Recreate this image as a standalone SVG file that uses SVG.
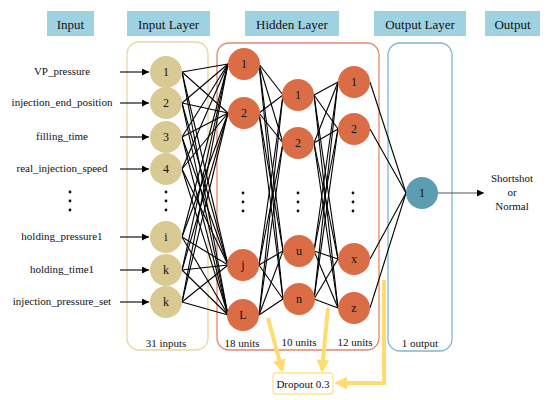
<svg xmlns="http://www.w3.org/2000/svg" width="550" height="400" viewBox="0 0 550 400" font-family="'Liberation Serif', 'DejaVu Serif', serif">
<defs>
<style>
text{font-family:'Liberation Serif','DejaVu Serif',serif;fill:#111;text-anchor:middle;dominant-baseline:central}
.hdr rect{fill:#9fd2e1}
.hdr text{font-size:13px}
.lbl{font-size:11px}
.in circle.n{fill:#d8ca92}
.hid circle.n{fill:#db6d46}
.out circle.n{fill:#5c9db2}
.nt{font-size:12px}
.conn line{stroke:#000;stroke-width:1.1}
circle.dot{fill:#111}
.yl{stroke:#ffdc70;stroke-width:4;fill:none}
</style>
<marker id="ah" viewBox="0 0 10 10" refX="10" refY="5" markerWidth="7" markerHeight="7" markerUnits="userSpaceOnUse" orient="auto"><path d="M0,0L10,5L0,10z" fill="#000"/></marker>
<marker id="ya" viewBox="0 0 10 10" refX="8" refY="5" markerWidth="3.2" markerHeight="3.2" orient="auto"><path d="M0,0L10,5L0,10z" fill="#ffdc70"/></marker>
</defs>
<rect width="550" height="400" fill="#fff"/>

<g id="headers" class="hdr">
<g id="h-input"><rect x="47" y="11" width="47" height="25"/><text x="70.5" y="24">Input</text></g>
<g id="h-inlayer"><rect x="127" y="11" width="83" height="25"/><text x="168.5" y="24">Input Layer</text></g>
<g id="h-hidden"><rect x="245" y="11" width="94" height="25"/><text x="292" y="24">Hidden Layer</text></g>
<g id="h-outlayer"><rect x="374" y="11" width="92" height="25"/><text x="420" y="24">Output Layer</text></g>
<g id="h-output"><rect x="485" y="11" width="55" height="25"/><text x="512.5" y="24">Output</text></g>
</g>

<g id="layer-boxes" fill="none" stroke-width="1.3">
<rect id="box-input" x="127" y="42" width="81" height="308" rx="12" stroke="#e6d9a2"/>
<rect id="box-hidden" x="217" y="43" width="162" height="307" rx="12" stroke="#e5876b"/>
<rect id="box-output" x="388" y="43" width="64" height="308" rx="12" stroke="#7fb7cc"/>
</g>

<g id="connectors" class="conn">
<line x1="120" y1="72" x2="149" y2="72" marker-end="url(#ah)"/>
<line x1="120" y1="103" x2="149" y2="103" marker-end="url(#ah)"/>
<line x1="120" y1="137" x2="149" y2="137" marker-end="url(#ah)"/>
<line x1="120" y1="169" x2="149" y2="169" marker-end="url(#ah)"/>
<line x1="120" y1="237" x2="149" y2="237" marker-end="url(#ah)"/>
<line x1="120" y1="270" x2="149" y2="270" marker-end="url(#ah)"/>
<line x1="120" y1="302" x2="149" y2="302" marker-end="url(#ah)"/>
<g>
<line x1="182" y1="72" x2="228" y2="64"/><line x1="182" y1="72" x2="228" y2="113"/><line x1="182" y1="72" x2="228" y2="265"/><line x1="182" y1="72" x2="228" y2="315"/>
<line x1="182" y1="103" x2="228" y2="64"/><line x1="182" y1="103" x2="228" y2="113"/><line x1="182" y1="103" x2="228" y2="265"/><line x1="182" y1="103" x2="228" y2="315"/>
<line x1="182" y1="137" x2="228" y2="64"/><line x1="182" y1="137" x2="228" y2="113"/><line x1="182" y1="137" x2="228" y2="265"/><line x1="182" y1="137" x2="228" y2="315"/>
<line x1="182" y1="169" x2="228" y2="64"/><line x1="182" y1="169" x2="228" y2="113"/><line x1="182" y1="169" x2="228" y2="265"/><line x1="182" y1="169" x2="228" y2="315"/>
<line x1="182" y1="237" x2="228" y2="64"/><line x1="182" y1="237" x2="228" y2="113"/><line x1="182" y1="237" x2="228" y2="265"/><line x1="182" y1="237" x2="228" y2="315"/>
<line x1="182" y1="270" x2="228" y2="64"/><line x1="182" y1="270" x2="228" y2="113"/><line x1="182" y1="270" x2="228" y2="265"/><line x1="182" y1="270" x2="228" y2="315"/>
<line x1="182" y1="302" x2="228" y2="64"/><line x1="182" y1="302" x2="228" y2="113"/><line x1="182" y1="302" x2="228" y2="265"/><line x1="182" y1="302" x2="228" y2="315"/>
</g>
<g>
<line x1="259" y1="64" x2="283" y2="95"/><line x1="259" y1="64" x2="283" y2="143"/><line x1="259" y1="64" x2="283" y2="251"/><line x1="259" y1="64" x2="283" y2="299"/>
<line x1="259" y1="113" x2="283" y2="95"/><line x1="259" y1="113" x2="283" y2="143"/><line x1="259" y1="113" x2="283" y2="251"/><line x1="259" y1="113" x2="283" y2="299"/>
<line x1="259" y1="265" x2="283" y2="95"/><line x1="259" y1="265" x2="283" y2="143"/><line x1="259" y1="265" x2="283" y2="251"/><line x1="259" y1="265" x2="283" y2="299"/>
<line x1="259" y1="315" x2="283" y2="95"/><line x1="259" y1="315" x2="283" y2="143"/><line x1="259" y1="315" x2="283" y2="251"/><line x1="259" y1="315" x2="283" y2="299"/>
</g>
<g>
<line x1="314" y1="95" x2="338" y2="82"/><line x1="314" y1="95" x2="338" y2="129"/><line x1="314" y1="95" x2="338" y2="259"/><line x1="314" y1="95" x2="338" y2="308"/>
<line x1="314" y1="143" x2="338" y2="82"/><line x1="314" y1="143" x2="338" y2="129"/><line x1="314" y1="143" x2="338" y2="259"/><line x1="314" y1="143" x2="338" y2="308"/>
<line x1="314" y1="251" x2="338" y2="82"/><line x1="314" y1="251" x2="338" y2="129"/><line x1="314" y1="251" x2="338" y2="259"/><line x1="314" y1="251" x2="338" y2="308"/>
<line x1="314" y1="299" x2="338" y2="82"/><line x1="314" y1="299" x2="338" y2="129"/><line x1="314" y1="299" x2="338" y2="259"/><line x1="314" y1="299" x2="338" y2="308"/>
</g>
<line x1="370" y1="82" x2="406" y2="193"/><line x1="370" y1="129" x2="406" y2="193"/><line x1="370" y1="259" x2="406" y2="193"/><line x1="370" y1="308" x2="406" y2="193"/>
<line x1="438" y1="193" x2="484" y2="193" style="stroke:#555" marker-end="url(#ah)"/>
</g>

<g id="dropout-arrows">
<path class="yl" d="M268,318L282,370" marker-end="url(#ya)"/>
<path class="yl" d="M328,308L322,370" marker-end="url(#ya)"/>
<path class="yl" d="M384,280V383H337" marker-end="url(#ya)"/>
</g>

<g id="input-labels" class="lbl">
<text x="62" y="71">VP_pressure</text>
<text x="62" y="102">injection_end_position</text>
<text x="62" y="136">filling_time</text>
<text x="62" y="168">real_injection_speed</text>
<text x="62" y="236">holding_pressure1</text>
<text x="62" y="269">holding_time1</text>
<text x="62" y="301">injection_pressure_set</text>
<circle class="dot" cx="70" cy="192" r="1.4"/><circle class="dot" cx="70" cy="201" r="1.4"/><circle class="dot" cx="70" cy="210" r="1.4"/>
</g>

<g id="input-nodes" class="in">
<g id="in1"><circle class="n" cx="166" cy="72" r="16"/><text class="nt" x="166" y="72">1</text></g>
<g id="in2"><circle class="n" cx="166" cy="103" r="16"/><text class="nt" x="166" y="103">2</text></g>
<g id="in3"><circle class="n" cx="166" cy="137" r="16"/><text class="nt" x="166" y="137">3</text></g>
<g id="in4"><circle class="n" cx="166" cy="169" r="16"/><text class="nt" x="166" y="169">4</text></g>
<g id="in-i"><circle class="n" cx="166" cy="237" r="16"/><text class="nt" x="166" y="237">i</text></g>
<g id="in-k1"><circle class="n" cx="166" cy="270" r="16"/><text class="nt" x="166" y="270">k</text></g>
<g id="in-k2"><circle class="n" cx="166" cy="302" r="16"/><text class="nt" x="166" y="302">k</text></g>
<circle class="dot" cx="166" cy="192" r="1.4"/><circle class="dot" cx="166" cy="201" r="1.4"/><circle class="dot" cx="166" cy="210" r="1.4"/>
<text class="lbl" x="166" y="343">31 inputs</text>
</g>

<g id="hidden-nodes" class="hid">
<g id="h1-1"><circle class="n" cx="244" cy="64" r="16"/><text class="nt" x="244" y="64">1</text></g>
<g id="h1-2"><circle class="n" cx="244" cy="113" r="16"/><text class="nt" x="244" y="113">2</text></g>
<g id="h1-j"><circle class="n" cx="243" cy="265" r="16"/><text class="nt" x="243" y="265">j</text></g>
<g id="h1-L"><circle class="n" cx="243" cy="315" r="16"/><text class="nt" x="243" y="315">L</text></g>
<g id="h2-1"><circle class="n" cx="298" cy="95" r="16"/><text class="nt" x="298" y="95">1</text></g>
<g id="h2-2"><circle class="n" cx="298" cy="143" r="16"/><text class="nt" x="298" y="143">2</text></g>
<g id="h2-u"><circle class="n" cx="299" cy="251" r="16"/><text class="nt" x="299" y="251">u</text></g>
<g id="h2-n"><circle class="n" cx="299" cy="299" r="16"/><text class="nt" x="299" y="299">n</text></g>
<g id="h3-1"><circle class="n" cx="354" cy="82" r="16"/><text class="nt" x="354" y="82">1</text></g>
<g id="h3-2"><circle class="n" cx="354" cy="129" r="16"/><text class="nt" x="354" y="129">2</text></g>
<g id="h3-x"><circle class="n" cx="354" cy="259" r="16"/><text class="nt" x="354" y="259">x</text></g>
<g id="h3-z"><circle class="n" cx="354" cy="308" r="16"/><text class="nt" x="354" y="308">z</text></g>
<circle class="dot" cx="243" cy="193" r="1.4"/><circle class="dot" cx="243" cy="202" r="1.4"/><circle class="dot" cx="243" cy="211" r="1.4"/>
<circle class="dot" cx="298" cy="193" r="1.4"/><circle class="dot" cx="298" cy="202" r="1.4"/><circle class="dot" cx="298" cy="211" r="1.4"/>
<circle class="dot" cx="353" cy="193" r="1.4"/><circle class="dot" cx="353" cy="202" r="1.4"/><circle class="dot" cx="353" cy="211" r="1.4"/>
<text class="lbl" x="242" y="343">18 units</text>
<text class="lbl" x="299" y="342">10 units</text>
<text class="lbl" x="355" y="342">12 units</text>
</g>

<g id="output-node" class="out">
<circle class="n" cx="422" cy="193" r="16"/><text class="nt" x="422" y="193">1</text>
<text class="lbl" x="420" y="343">1 output</text>
</g>

<g id="output-label" class="lbl">
<text x="512" y="178">Shortshot</text>
<text x="512" y="192">or</text>
<text x="512" y="206">Normal</text>
</g>

<g id="dropout">
<rect x="273" y="373" width="60" height="21" rx="3" fill="#fff" stroke="#ffe48a" stroke-width="1.3"/>
<text class="lbl" x="303" y="384">Dropout 0.3</text>
</g>
</svg>
